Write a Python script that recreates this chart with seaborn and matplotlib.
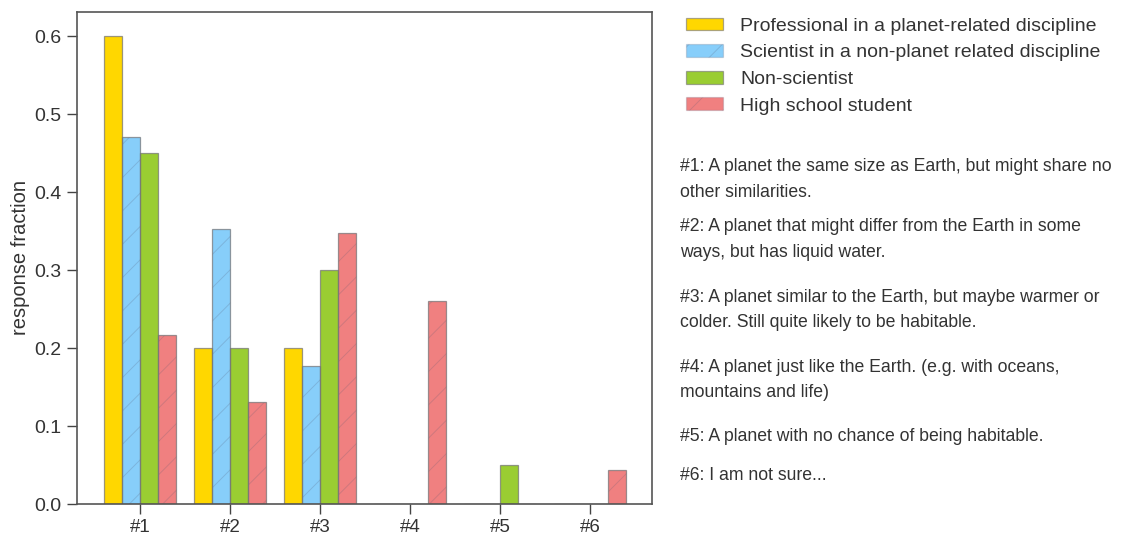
import matplotlib
matplotlib.use("Agg")
import matplotlib.pyplot as plt
from matplotlib.patches import Patch, Rectangle
import seaborn as sns
import pandas as pd

categories = ["#1", "#2", "#3", "#4", "#5", "#6"]
groups = ["Professional in a planet-related discipline",
          "Scientist in a non-planet related discipline",
          "Non-scientist",
          "High school student"]
professional = [0.60, 0.20, 0.20, 0.0, 0.0, 0.0]
scientist = [0.47, 0.353, 0.177, 0.0, 0.0, 0.0]
non_scientist = [0.45, 0.20, 0.30, 0.0, 0.05, 0.0]
high_school = [0.217, 0.131, 0.348, 0.26, 0.0, 0.043]
colors = ["#FFD700", "#87CEFA", "#9ACD32", "#F08080"]
hatches = ["", "/", "", "/"]
descriptions = [
    "#1: A planet the same size as Earth, but might share no\nother similarities.",
    "#2: A planet that might differ from the Earth in some\nways, but has liquid water.",
    "#3: A planet similar to the Earth, but maybe warmer or\ncolder. Still quite likely to be habitable.",
    "#4: A planet just like the Earth. (e.g. with oceans,\nmountains and life)",
    "#5: A planet with no chance of being habitable.",
    "#6: I am not sure...",
]
desc_y = [0.665, 0.553, 0.4215, 0.291, 0.1856, 0.1128]

rows = []
for g, vals in zip(groups, [professional, scientist, non_scientist, high_school]):
    for c, v in zip(categories, vals):
        rows.append({"category": c, "group": g, "value": v})
df = pd.DataFrame(rows)

sns.set_theme(style="ticks")
plt.rcParams["font.family"] = ["Liberation Sans", "DejaVu Sans"]
plt.rcParams["hatch.linewidth"] = 0.7

hatch_edge = (0.35, 0.35, 0.45, 0.22)
outline = (0.45, 0.45, 0.45, 0.6)

fig = plt.figure(figsize=(11.27, 5.36), dpi=100)
ax = fig.add_axes([0.0683, 0.0597, 0.5102, 0.918])

sns.barplot(data=df, x="category", y="value", hue="group", hue_order=groups,
            palette=colors, order=categories, ax=ax, legend=False, saturation=1,
            edgecolor=hatch_edge, linewidth=0.8, width=0.8)

for cont, h in zip(ax.containers, hatches):
    for bar in cont:
        bar.set_hatch(h)
        ax.add_patch(Rectangle(bar.get_xy(), bar.get_width(), bar.get_height(),
                               fill=False, edgecolor=outline, linewidth=0.9,
                               zorder=bar.get_zorder() + 0.1))

ax.set_xlim(-0.7, 5.69)
ax.set_ylim(0, 0.631)
ax.set_yticks([0.0, 0.1, 0.2, 0.3, 0.4, 0.5, 0.6])
ax.set_yticklabels(["0.0", "0.1", "0.2", "0.3", "0.4", "0.5", "0.6"])
ax.set_xlabel("")
ax.set_ylabel("response fraction", fontsize=14.5, color="#333333", labelpad=3)
ax.tick_params(axis="y", labelsize=14)
ax.tick_params(axis="x", labelsize=13.5)
ax.tick_params(axis="both", colors="#444444", length=7, width=1,
               labelcolor="#333333", direction="out", pad=4)
ax.tick_params(top=False, right=False)
for s in ax.spines.values():
    s.set_visible(True)
    s.set_color("#555555")
    s.set_linewidth(1.2)

handles = []
for c, h in zip(colors, hatches):
    handles.append(Patch(facecolor=c, edgecolor=hatch_edge if h else outline,
                         hatch=h, linewidth=0.9))
fig.legend(handles, groups, loc="upper left", bbox_to_anchor=(0.593, 1.0),
           frameon=False, fontsize=14, handlelength=1.93, handleheight=0.65,
           labelspacing=0.48, handletextpad=0.88, labelcolor="#333333")

for txt, y in zip(descriptions, desc_y):
    fig.text(0.603, y, txt, fontsize=12.7, color="#333333", va="center",
             linespacing=1.65)

fig.savefig("out.png", dpi=100)
